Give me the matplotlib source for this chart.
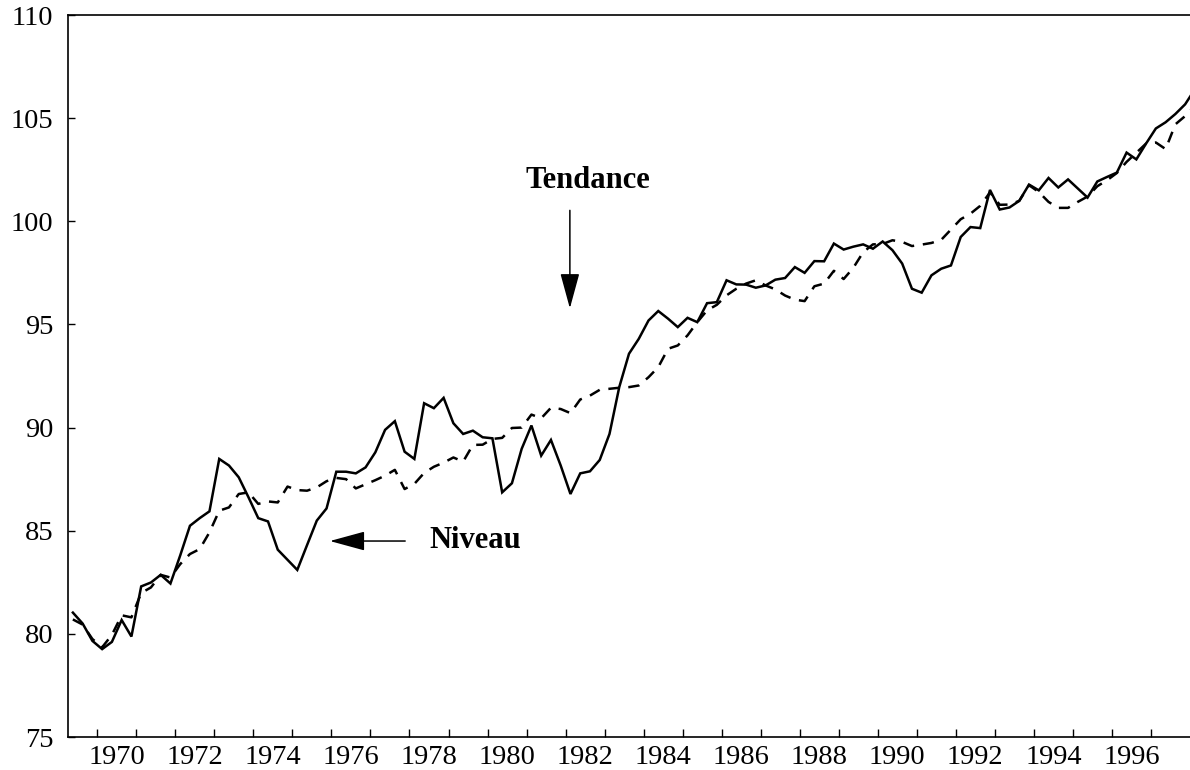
import numpy as np
import matplotlib
matplotlib.use("Agg")
import matplotlib.pyplot as plt
from matplotlib.patches import FancyArrowPatch

plt.rcParams['font.family'] = ['Liberation Serif', 'DejaVu Serif']

# Quarterly series, first observation 1969Q2
start_year = 1969
start_quarter = 2

niveau = [81.03, 80.5, 79.66, 79.26, 79.61, 80.67, 79.87, 82.3, 82.49, 82.86,
          82.44, 83.8, 85.24, 85.61, 85.94, 88.48, 88.16, 87.59, 86.62, 85.61,
          85.45, 84.08, 83.59, 83.1, 84.3, 85.49, 86.08, 87.86, 87.86, 87.78,
          88.07, 88.8, 89.89, 90.31, 88.83, 88.48, 91.18, 90.94, 91.44, 90.21,
          89.69, 89.85, 89.53, 89.48, 86.86, 87.3, 88.97, 90.1, 88.64, 89.4,
          88.16, 86.78, 87.78, 87.88, 88.43, 89.69, 91.96, 93.58, 94.3, 95.19,
          95.65, 95.28, 94.87, 95.32, 95.11, 96.03, 96.08, 97.14, 96.94, 96.93,
          96.78, 96.89, 97.17, 97.25, 97.78, 97.5, 98.07, 98.06, 98.92, 98.63,
          98.77, 98.88, 98.67, 99.02, 98.6, 97.95, 96.73, 96.54, 97.38, 97.7,
          97.86, 99.24, 99.72, 99.67, 101.52, 100.57, 100.67, 100.99, 101.78, 101.5,
          102.1, 101.64, 102.03, 101.59, 101.15, 101.93, 102.15, 102.36, 103.33, 103.0,
          103.77, 104.5, 104.8, 105.2, 105.67, 106.4]

tendance = [80.7, 80.45, 79.75, 79.35, 79.95, 80.9, 80.8, 81.98, 82.25, 82.86,
            82.73, 83.38, 83.87, 84.11, 84.92, 85.97, 86.13, 86.78, 86.86, 86.3,
            86.42, 86.37, 87.14, 86.97, 86.94, 87.1, 87.4, 87.56, 87.5, 87.05,
            87.25, 87.45, 87.67, 87.95, 87.02, 87.27, 87.8, 88.1, 88.3, 88.55,
            88.35, 89.16, 89.17, 89.45, 89.5, 89.98, 90.0, 90.63, 90.45, 90.96,
            90.9, 90.7, 91.36, 91.55, 91.83, 91.88, 91.93, 91.96, 92.04, 92.44,
            92.93, 93.82, 93.98, 94.47, 95.11, 95.68, 95.95, 96.41, 96.73, 96.98,
            97.14, 96.89, 96.7, 96.4, 96.2, 96.13, 96.85, 96.98, 97.6, 97.2,
            97.75, 98.5, 98.88, 98.9, 99.08, 99.0, 98.8, 98.87, 98.95, 99.1,
            99.6, 100.1, 100.37, 100.75, 101.4, 100.8, 100.81, 100.99, 101.75, 101.42,
            100.94, 100.65, 100.65, 100.94, 101.2, 101.7, 101.99, 102.34, 102.88, 103.32,
            103.77, 103.82, 103.5, 104.7, 105.1, 105.6]

year_ticks = list(range(1970, 1998))
year_labels = [str(y) for y in range(1970, 1998, 2)]
y_ticks = [75, 80, 85, 90, 95, 100, 105, 110]

n = len(niveau)
dates = start_year + (start_quarter - 1) / 4 + (np.arange(n) + 0.5) / 4

fig = plt.figure(figsize=(11.9, 7.7), dpi=100)
ax = fig.add_axes([68 / 1190, 1 - 737 / 770, 1 - 68 / 1190, (737 - 15) / 770])

ax.plot(dates, niveau, color='black', lw=1.8, solid_joinstyle='miter')
ax.plot(dates, tendance, color='black', lw=1.8, linestyle=(0, (4.5, 3.5)))

ax.set_xlim(1969.25, 1998.0)
ax.set_ylim(75, 110)

ax.spines['right'].set_visible(False)
for s in ['top', 'left', 'bottom']:
    ax.spines[s].set_linewidth(1.2)

ax.set_yticks(y_ticks)
ax.set_yticklabels([str(v) for v in y_ticks])
ax.tick_params(axis='y', direction='in', length=5, width=1, labelsize=20.5, pad=10.5)

ax.set_xticks(year_ticks)
ax.set_xticklabels([''] * len(year_ticks))
ax.tick_params(axis='x', which='major', direction='in', length=6, width=1)
ax.set_xticks([int(l) + 0.5 for l in year_labels], minor=True)
ax.set_xticklabels(year_labels, minor=True)
ax.tick_params(axis='x', which='minor', length=0, labelsize=20.5, pad=6)

# Annotations
ax.text(1982.57, 101.99, 'Tendance', ha='center', va='center',
        fontsize=22, fontweight='bold')
ax.add_patch(FancyArrowPatch((1982.11, 100.53), (1982.11, 95.78),
                             arrowstyle='-|>,head_length=1.1,head_width=0.3',
                             mutation_scale=20, lw=1.1, color='black',
                             shrinkA=0, shrinkB=0))
ax.text(1979.68, 84.51, 'Niveau', ha='center', va='center',
        fontsize=22, fontweight='bold')
ax.add_patch(FancyArrowPatch((1977.89, 84.5), (1975.96, 84.5),
                             arrowstyle='-|>,head_length=1.1,head_width=0.3',
                             mutation_scale=20, lw=1.1, color='black',
                             shrinkA=0, shrinkB=0))

fig.savefig('out.png', dpi=100)
